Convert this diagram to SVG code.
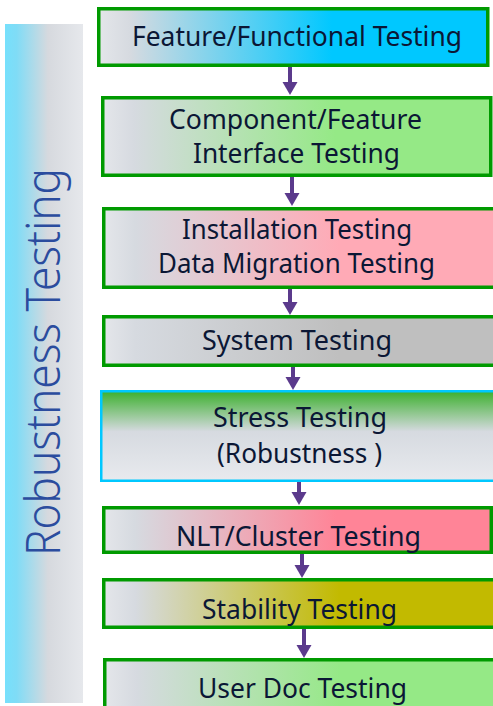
<svg xmlns="http://www.w3.org/2000/svg" width="493" height="706" viewBox="0 0 493 706">
<style>
.box{stroke:#009a00;stroke-width:3.5}
.lbl{font-family:"Noto Sans","Open Sans",sans-serif;font-size:27px;fill:#0b1735;text-anchor:middle}
.conn{stroke:#5b3a8c;stroke-width:4;fill:none}
.head{fill:#5b3a8c}
</style>
<defs>
<linearGradient id="gSide" x1="0" y1="0" x2="1" y2="0">
<stop offset="0" stop-color="#76e0fc"/><stop offset="0.15" stop-color="#80dcf6"/><stop offset="0.55" stop-color="#d6d9de"/><stop offset="1" stop-color="#e6e8ec"/>
</linearGradient>
<linearGradient id="gCyan" x1="0" y1="0" x2="1" y2="0">
<stop offset="0" stop-color="#e4e6ea"/><stop offset="0.08" stop-color="#d6dae0"/><stop offset="0.6" stop-color="#00c8ff"/>
</linearGradient>
<linearGradient id="gGreen" x1="0" y1="0" x2="1" y2="0">
<stop offset="0" stop-color="#e4e6ea"/><stop offset="0.08" stop-color="#d6dae0"/><stop offset="0.6" stop-color="#95e986"/>
</linearGradient>
<linearGradient id="gPink" x1="0" y1="0" x2="1" y2="0">
<stop offset="0" stop-color="#e4e6ea"/><stop offset="0.08" stop-color="#d6dae0"/><stop offset="0.6" stop-color="#ffaab6"/>
</linearGradient>
<linearGradient id="gGray" x1="0" y1="0" x2="1" y2="0">
<stop offset="0" stop-color="#e4e6ea"/><stop offset="0.08" stop-color="#d6dae0"/><stop offset="0.6" stop-color="#bfbfbf"/>
</linearGradient>
<linearGradient id="gRose" x1="0" y1="0" x2="1" y2="0">
<stop offset="0" stop-color="#e4e6ea"/><stop offset="0.08" stop-color="#d6dae0"/><stop offset="0.6" stop-color="#ff8497"/>
</linearGradient>
<linearGradient id="gOlive" x1="0" y1="0" x2="1" y2="0">
<stop offset="0" stop-color="#e4e6ea"/><stop offset="0.08" stop-color="#d6dae0"/><stop offset="0.6" stop-color="#c2ba00"/>
</linearGradient>
<linearGradient id="gStress" x1="0" y1="0" x2="0" y2="1">
<stop offset="0" stop-color="#3cb02e"/><stop offset="0.45" stop-color="#d6dae0"/><stop offset="1" stop-color="#e8eaee"/>
</linearGradient>
</defs>

<g id="robustness-band">
<rect x="5" y="24" width="78" height="679" fill="url(#gSide)"/>
<text transform="translate(60,362) rotate(-90)" font-family="'Noto Sans','Open Sans',sans-serif" font-size="47" font-weight="300" fill="#2b4c9e" text-anchor="middle" textLength="388" lengthAdjust="spacingAndGlyphs">Robustness Testing</text>
</g>

<g id="connectors">
<line class="conn" x1="290" y1="67" x2="290" y2="84"/><polygon class="head" points="282.5,82 297.5,82 290,95"/>
<line class="conn" x1="292" y1="177" x2="292" y2="195"/><polygon class="head" points="284.5,193 299.5,193 292,206"/>
<line class="conn" x1="290" y1="289" x2="290" y2="304"/><polygon class="head" points="282.5,302 297.5,302 290,315"/>
<line class="conn" x1="293" y1="367" x2="293" y2="379"/><polygon class="head" points="285.5,377 300.5,377 293,390"/>
<line class="conn" x1="299" y1="482" x2="299" y2="494"/><polygon class="head" points="291.5,492 306.5,492 299,505"/>
<line class="conn" x1="302" y1="554" x2="302" y2="567"/><polygon class="head" points="294.5,565 309.5,565 302,578"/>
<line class="conn" x1="304" y1="629" x2="304" y2="647"/><polygon class="head" points="296.5,645 311.5,645 304,658"/>
</g>

<g id="feature-functional">
<rect class="box" x="98.75" y="8.75" width="389" height="56.5" fill="url(#gCyan)"/>
<text class="lbl" x="297" y="46" textLength="330" lengthAdjust="spacingAndGlyphs">Feature/Functional Testing</text>
</g>

<g id="component-interface">
<rect class="box" x="102.75" y="97.75" width="388" height="77.5" fill="url(#gGreen)"/>
<text class="lbl" x="295.5" y="129" textLength="253" lengthAdjust="spacingAndGlyphs">Component/Feature</text>
<text class="lbl" x="296.5" y="163" textLength="207" lengthAdjust="spacingAndGlyphs">Interface Testing</text>
</g>

<g id="installation-migration">
<rect class="box" x="103.75" y="208.75" width="392" height="78.5" fill="url(#gPink)"/>
<text class="lbl" x="297" y="239" textLength="230" lengthAdjust="spacingAndGlyphs">Installation Testing</text>
<text class="lbl" x="296.5" y="273" textLength="277" lengthAdjust="spacingAndGlyphs">Data Migration Testing</text>
</g>

<g id="system">
<rect class="box" x="103.75" y="316.75" width="392" height="48.5" fill="url(#gGray)"/>
<text class="lbl" x="297" y="350" textLength="190" lengthAdjust="spacingAndGlyphs">System Testing</text>
</g>

<g id="stress">
<rect x="101.25" y="391.25" width="396" height="89.5" fill="url(#gStress)" stroke="#00c8ff" stroke-width="2.5"/>
<text class="lbl" x="300" y="427" textLength="174" lengthAdjust="spacingAndGlyphs">Stress Testing</text>
<text class="lbl" x="299.5" y="463" textLength="165" lengthAdjust="spacingAndGlyphs">(Robustness )</text>
</g>

<g id="nlt-cluster">
<rect class="box" x="103.75" y="507.75" width="387.5" height="44.5" fill="url(#gRose)"/>
<text class="lbl" x="298.5" y="546" textLength="245" lengthAdjust="spacingAndGlyphs">NLT/Cluster Testing</text>
</g>

<g id="stability">
<rect class="box" x="103.75" y="579.75" width="394" height="47.5" fill="url(#gOlive)"/>
<text class="lbl" x="299.5" y="619" textLength="195" lengthAdjust="spacingAndGlyphs">Stability Testing</text>
</g>

<g id="user-doc">
<rect class="box" x="104.75" y="659.75" width="394" height="60" fill="url(#gGreen)"/>
<text class="lbl" x="302.5" y="698" textLength="209" lengthAdjust="spacingAndGlyphs">User Doc Testing</text>
</g>
</svg>
